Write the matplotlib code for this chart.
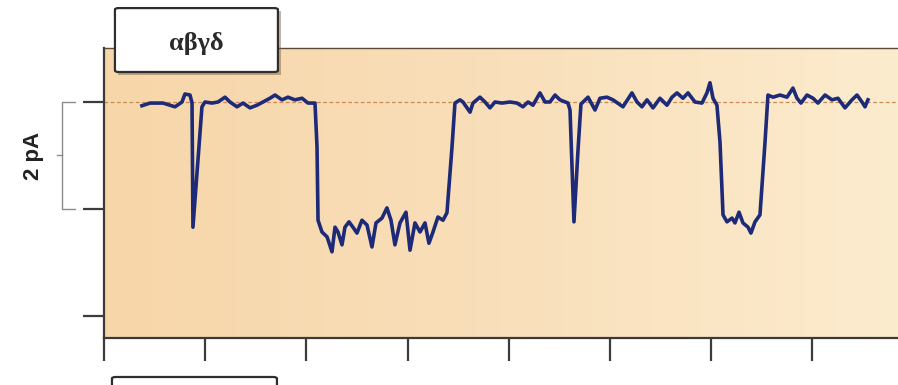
import numpy as np
import matplotlib
matplotlib.use("Agg")
import matplotlib.pyplot as plt
from matplotlib.colors import LinearSegmentedColormap
from matplotlib.patches import FancyBboxPatch, Rectangle
from matplotlib.transforms import blended_transform_factory

# single channel current trace, time in ms, current in pA
time_ms = [
    37.5, 45.5, 58.3, 70.2, 77.1, 80.0, 85.0, 87.0, 87.9, 96.8,
    99.8, 106.7, 112.6, 119.6, 124.5, 131.4, 137.4, 144.3, 151.2, 157.1,
    164.0, 169.0, 175.9, 181.8, 188.7, 195.7, 201.6, 208.5, 210.5, 211.5,
    215.4, 220.4, 225.3, 228.3, 231.2, 235.2, 238.1, 242.1, 246.0, 250.0,
    254.9, 259.9, 264.8, 268.8, 274.7, 279.6, 283.6, 287.5, 292.5, 298.4,
    302.4, 307.3, 312.3, 317.2, 321.1, 325.1, 330.0, 335.0, 338.9, 343.9,
    346.8, 351.8, 354.7, 361.7, 364.6, 371.5, 376.5, 381.4, 386.4, 393.3,
    401.2, 408.1, 414.0, 419.0, 423.9, 430.8, 435.8, 440.7, 445.7, 450.6,
    458.5, 460.5, 464.4, 468.4, 471.3, 478.3, 485.2, 490.1, 497.0, 503.0,
    512.8, 521.7, 526.7, 531.6, 536.6, 542.5, 549.4, 556.3, 561.3, 566.2,
    572.1, 577.1, 584.0, 590.9, 595.8, 598.8, 601.8, 605.7, 608.7, 611.7,
    615.6, 620.6, 623.5, 627.5, 631.4, 636.4, 639.3, 643.3, 648.2, 653.2,
    656.1, 661.1, 668.0, 674.9, 680.8, 684.8, 688.7, 694.7, 700.6, 705.5,
    712.5, 719.4, 725.3, 732.2, 739.1, 744.1, 749.0, 752.0, 754.9,
]
current_pa = [
    -0.07, -0.02, -0.02, -0.09, 0.00, 0.15, 0.13, -0.02, -2.34, -0.09,
    0.00, -0.02, 0.00, 0.09, 0.00, -0.09, -0.02, -0.11, -0.06, 0.00,
    0.07, 0.13, 0.04, 0.09, 0.04, 0.07, -0.02, -0.02, -0.84, -2.21,
    -2.43, -2.52, -2.80, -2.34, -2.43, -2.67, -2.34, -2.24, -2.34, -2.45,
    -2.21, -2.30, -2.71, -2.26, -2.17, -1.98, -2.21, -2.67, -2.26, -2.06,
    -2.77, -2.26, -2.43, -2.26, -2.64, -2.43, -2.15, -2.21, -2.07, -0.84,
    -0.02, 0.04, 0.00, -0.19, -0.02, 0.09, 0.00, -0.11, 0.00, -0.02,
    0.00, -0.02, -0.09, 0.00, -0.06, 0.17, 0.00, 0.00, 0.13, 0.04,
    -0.02, -0.15, -2.24, -0.90, -0.04, 0.09, -0.15, 0.07, 0.09, 0.04,
    -0.09, 0.17, 0.00, -0.09, 0.04, -0.11, 0.07, -0.06, 0.09, 0.17,
    0.07, 0.17, 0.00, -0.02, 0.17, 0.36, 0.07, -0.06, -0.75, -2.11,
    -2.24, -2.17, -2.26, -2.06, -2.26, -2.34, -2.45, -2.24, -2.11, -0.75,
    0.13, 0.09, 0.13, 0.09, 0.26, 0.07, -0.02, 0.13, 0.07, -0.02,
    0.13, 0.04, 0.07, -0.11, 0.04, 0.13, 0.00, -0.09, 0.04,
]

x_ticks = [0, 100, 200, 300, 400, 500, 600, 700]
y_ticks = [0, -2, -4]
panel_label = "αβγδ"
scale_label = "2 pA"

fig = plt.figure(figsize=(8.98, 3.85), dpi=100)
ax = fig.add_axes([0.1158, 0.1221, 0.8842, 0.7532])

# peach background, a bit lighter to the right like the scan
bg = LinearSegmentedColormap.from_list("bg", ["#f7d6a9", "#f9dfba", "#fcecce"])
ax.imshow(np.linspace(0, 1, 256).reshape(1, -1), extent=[0, 1, 0, 1],
          transform=ax.transAxes, cmap=bg, aspect="auto", zorder=0)

ax.axhline(0, color="#c98a55", lw=0.9, dashes=(3, 2), zorder=1)
ax.plot(time_ms, current_pa, color="#1c2a78", lw=2.6, solid_joinstyle="round", zorder=3)

ax.set_xlim(0, 784.6)
ax.set_ylim(-4.411, 1.009)
ax.set_xticks(x_ticks)
ax.set_yticks(y_ticks)
ax.set_xticklabels([])
ax.set_yticklabels([])
ax.tick_params(axis="x", direction="out", length=16.5, width=1.6, color="#3c3c3c")
ax.tick_params(axis="y", direction="out", length=15, width=1.6, color="#3c3c3c")
ax.spines["right"].set_visible(False)
for side in ["left", "bottom"]:
    ax.spines[side].set_color("#3a3a3a")
    ax.spines[side].set_linewidth(1.6)
ax.spines["top"].set_color("#5a4a3a")
ax.spines["top"].set_linewidth(1.0)

# 2 pA scale bracket left of the axis
tr = blended_transform_factory(ax.transAxes, ax.transData)
sx, sx_end, sx_mid = -0.0529, -0.0365, -0.0592
ax.plot([sx_end, sx, sx, sx_end], [0, 0, -2, -2], color="#8c8c8c", lw=1.0,
        transform=tr, clip_on=False)
ax.plot([sx_mid, sx], [-1, -1], color="#8c8c8c", lw=1.0, transform=tr, clip_on=False)
ax.text(-0.0894, -1, scale_label, transform=tr, rotation=90, ha="center", va="center",
        fontsize=16, fontweight="bold", color="#222222", family="Liberation Sans")

# label box on top of the panel
shadow = Rectangle((0.1312, 0.805), 0.1815, 0.166, transform=fig.transFigure,
                   facecolor="#7a5a3c", alpha=0.45, edgecolor="none", zorder=4)
fig.patches.append(shadow)
box = FancyBboxPatch((0.128, 0.813), 0.1815, 0.166, boxstyle="round,pad=0,rounding_size=0.004",
                     transform=fig.transFigure, facecolor="white", edgecolor="#2e2e2e",
                     lw=1.6, zorder=5)
fig.patches.append(box)
fig.text(0.2188, 0.886, panel_label, ha="center", va="center", fontsize=19,
         fontweight="bold", family="Liberation Serif", color="#2a2a2a", zorder=6)

# top of the next panel's label box, cut off by the image edge
box2 = FancyBboxPatch((0.1247, -0.2), 0.1837, 0.2208, boxstyle="round,pad=0,rounding_size=0.004",
                      transform=fig.transFigure, facecolor="white", edgecolor="#2e2e2e",
                      lw=1.6, zorder=5)
fig.patches.append(box2)

fig.savefig("out.png", dpi=100)
plt.close(fig)
